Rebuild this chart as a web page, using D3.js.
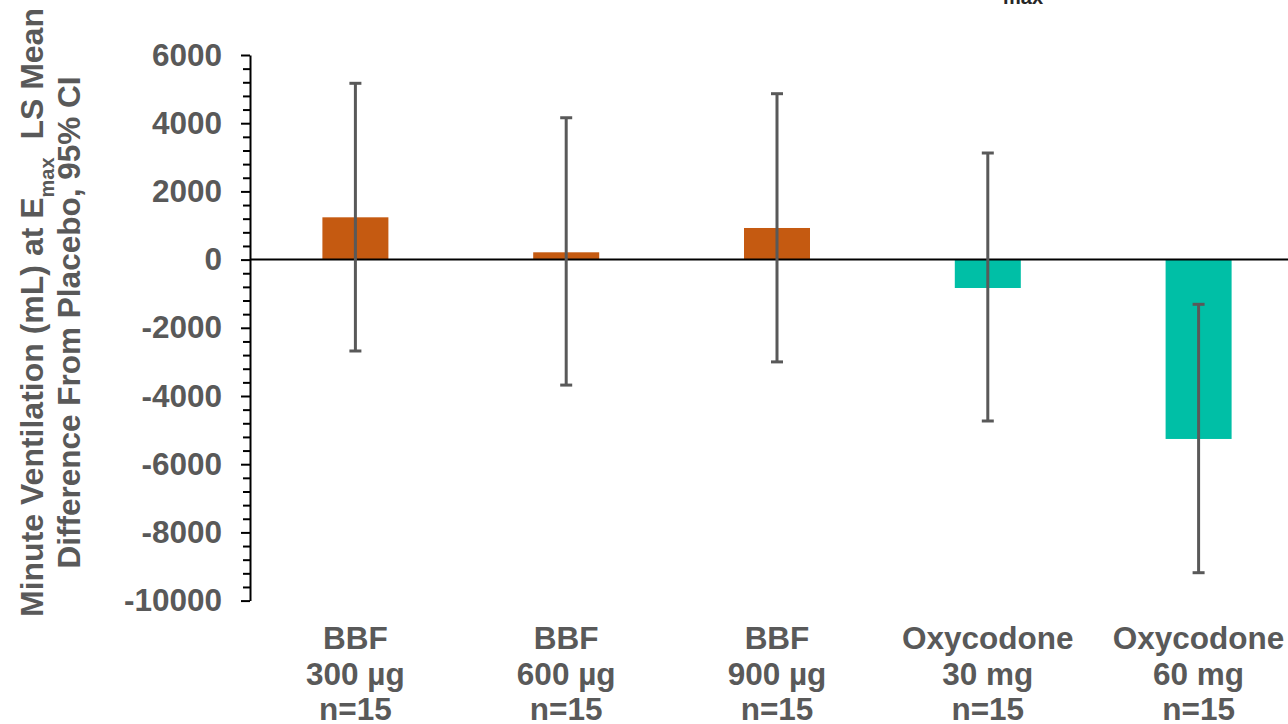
<!DOCTYPE html>
<html>
<head>
<meta charset="utf-8">
<script src="https://cdn.jsdelivr.net/npm/d3@7"></script>
<style>
  html, body { margin: 0; padding: 0; background: #fff; }
  svg { display: block; font-family: "Liberation Sans", Arial, sans-serif; }
</style>
</head>
<body>
<svg id="chart" width="1288" height="724"></svg>
<script>
// ---- Data ----
const categories = ["BBF 300 µg", "BBF 600 µg", "BBF 900 µg", "Oxycodone 30 mg", "Oxycodone 60 mg"];
const labelLine1 = ["BBF", "BBF", "BBF", "Oxycodone", "Oxycodone"];
const labelLine2 = ["300 µg", "600 µg", "900 µg", "30 mg", "60 mg"];
const labelLine3 = ["n=15", "n=15", "n=15", "n=15", "n=15"];
const lsMean = [1240, 214, 927, -833, -5260];
const ciLower = [-2680, -3680, -3000, -4733, -9182];
const ciUpper = [5170, 4160, 4865, 3126, -1311];
const group = ["BBF", "BBF", "BBF", "Oxycodone", "Oxycodone"];
const yTicks = [6000, 4000, 2000, 0, -2000, -4000, -6000, -8000, -10000];

const colors = { BBF: "#C55A11", Oxycodone: "#00BFA6" };
const textGray = "#595959";
const fs = 31.5;

const svg = d3.select("#chart");

const axisX = 250;
const y = d3.scaleLinear().domain([-10000, 6000]).range([600.6, 55]);
const x = d3.scaleBand().domain(categories).range([axisX, axisX + 5 * 210.8]).padding(0);
const barW = 66;
const cx = c => x(c) + x.bandwidth() / 2;

const data = categories.map((c, i) => ({
  c, mean: lsMean[i], lo: ciLower[i], hi: ciUpper[i], g: group[i],
  l1: labelLine1[i], l2: labelLine2[i], l3: labelLine3[i]
}));

// cut-off subscript from title above
svg.append("text")
  .attr("x", 1003).attr("y", 4)
  .attr("font-size", 20).attr("font-weight", "bold").attr("fill", "#262626")
  .text("max");

// bars
svg.append("g").selectAll("rect").data(data).join("rect")
  .attr("x", d => cx(d.c) - barW / 2)
  .attr("y", d => y(Math.max(0, d.mean)))
  .attr("width", barW)
  .attr("height", d => Math.abs(y(d.mean) - y(0)))
  .attr("fill", d => colors[d.g]);

// zero line
svg.append("line")
  .attr("x1", axisX).attr("x2", 1288)
  .attr("y1", y(0)).attr("y2", y(0))
  .attr("stroke", "#000").attr("stroke-width", 2);

// error bars
const eb = svg.append("g").attr("stroke", textGray).attr("stroke-width", 3);
eb.selectAll("line.v").data(data).join("line").attr("class", "v")
  .attr("x1", d => cx(d.c)).attr("x2", d => cx(d.c))
  .attr("y1", d => y(d.hi)).attr("y2", d => y(d.lo));
eb.selectAll("line.t").data(data).join("line").attr("class", "t")
  .attr("x1", d => cx(d.c) - 6).attr("x2", d => cx(d.c) + 6)
  .attr("y1", d => y(d.hi)).attr("y2", d => y(d.hi));
eb.selectAll("line.b").data(data).join("line").attr("class", "b")
  .attr("x1", d => cx(d.c) - 6).attr("x2", d => cx(d.c) + 6)
  .attr("y1", d => y(d.lo)).attr("y2", d => y(d.lo));

// minor ticks
const minorTicks = d3.range(-10000, 6001, 400).filter(v => !yTicks.includes(v));
svg.append("g").attr("transform", `translate(${axisX},0)`)
  .call(d3.axisLeft(y).tickValues(minorTicks).tickSize(7).tickFormat("").tickSizeOuter(0))
  .call(g => g.select(".domain").remove())
  .call(g => g.selectAll("line").attr("stroke", "#000").attr("stroke-width", 2));

// major axis
svg.append("g").attr("transform", `translate(${axisX},0)`)
  .call(d3.axisLeft(y).tickValues(yTicks).tickSize(9).tickSizeOuter(0).tickPadding(19).tickFormat(d3.format("d")))
  .call(g => g.select(".domain").attr("stroke", "#000").attr("stroke-width", 2))
  .call(g => g.selectAll("line").attr("stroke", "#000").attr("stroke-width", 2))
  .call(g => g.selectAll("text")
    .attr("font-family", "'Liberation Sans', Arial, sans-serif")
    .attr("font-size", fs).attr("font-weight", "bold").attr("fill", textGray)
    .text(d => d < 0 ? "-" + Math.abs(d) : d));

// x labels
const xl = svg.append("g").attr("font-size", fs).attr("font-weight", "bold")
  .attr("fill", textGray).attr("text-anchor", "middle");
xl.selectAll("text").data(data).join("text")
  .attr("x", d => cx(d.c)).attr("y", 649)
  .each(function(d) {
    const t = d3.select(this);
    t.append("tspan").attr("x", cx(d.c)).attr("dy", 0).text(d.l1);
    t.append("tspan").attr("x", cx(d.c)).attr("dy", 35.5).text(d.l2);
    t.append("tspan").attr("x", cx(d.c)).attr("dy", 35.5).text(d.l3);
  });

// y title
const yt1 = svg.append("g").attr("transform", "translate(0,312.5) rotate(-90)");
const t1 = yt1.append("text").attr("x", 0).attr("y", 43)
  .attr("text-anchor", "middle").attr("font-size", 32).attr("font-weight", "bold")
  .attr("fill", textGray).style("white-space", "pre");
t1.append("tspan").text("Minute Ventilation (mL) at E");
t1.append("tspan").attr("font-size", 20).attr("dy", 11).text("max");
t1.append("tspan").attr("dy", -11).text("  LS Mean");

const yt2 = svg.append("g").attr("transform", "translate(0,322.5) rotate(-90)");
yt2.append("text").attr("x", 0).attr("y", 80)
  .attr("text-anchor", "middle").attr("font-size", 31.5).attr("font-weight", "bold")
  .attr("fill", textGray).text("Difference From Placebo, 95% CI");
</script>
</body>
</html>
